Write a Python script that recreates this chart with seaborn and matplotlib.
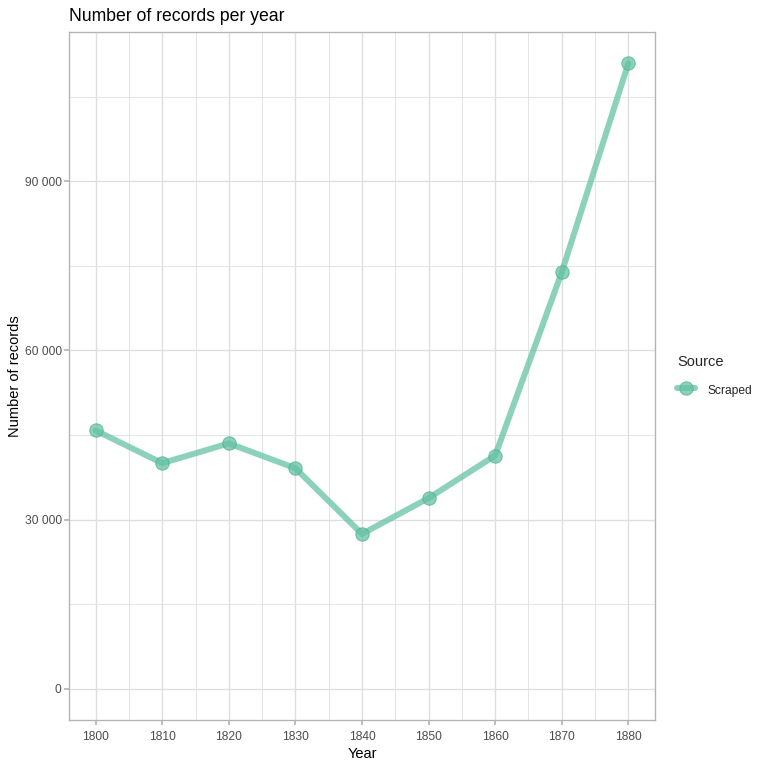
import pandas as pd
import numpy as np
import seaborn as sns
import matplotlib.pyplot as plt
from matplotlib.ticker import FuncFormatter, MultipleLocator

# values
years = [1800, 1810, 1820, 1830, 1840, 1850, 1860, 1870, 1880]
records = [45800, 40000, 43500, 39100, 27450, 33800, 41350, 73850, 110900]
source = ["Scraped"] * len(years)

df = pd.DataFrame({"Year": years, "Records": records, "Source": source})

sns.set_theme(style="white")
plt.rcParams['font.family'] = ['Liberation Sans', 'DejaVu Sans']

fig = plt.figure(figsize=(8, 8), dpi=96)
ax = fig.add_axes([69/768, 1 - 720/768, (655 - 69)/768, (720 - 32)/768])

sns.lineplot(data=df, x="Year", y="Records", hue="Source", palette=["#66c2a5"],
             marker="o", markersize=10, linewidth=4.5, alpha=0.75,
             markeredgecolor="#4fb28f", markeredgewidth=0.8, ax=ax)

ax.set_xlim(1796, 1884)
ax.set_ylim(-5545, 116450)
ax.set_xticks(years)
ax.xaxis.set_minor_locator(MultipleLocator(5))
ax.yaxis.set_major_locator(MultipleLocator(30000))
ax.yaxis.set_minor_locator(MultipleLocator(15000))
ax.yaxis.set_major_formatter(FuncFormatter(lambda v, p: f"{v:,.0f}".replace(",", " ")))

ax.grid(which="major", color="#dedede", linewidth=1.0)
ax.grid(which="minor", color="#e3e3e3", linewidth=0.7)
ax.set_axisbelow(True)
for s in ax.spines.values():
    s.set_color("#b3b3b3")
    s.set_linewidth(1.0)
ax.tick_params(axis="both", which="major", length=3.5, color="#b3b3b3", labelcolor="#4d4d4d",
               labelsize=9, pad=2, bottom=True, left=True)
ax.tick_params(axis="x", which="major", pad=5)
ax.tick_params(which="minor", length=0)

ax.set_xlabel("Year", fontsize=11, color="black", labelpad=3)
ax.set_ylabel("Number of records", fontsize=11, color="black", labelpad=2)
ax.set_title("Number of records per year", loc="left", fontsize=13.2, color="black", pad=8)

leg = ax.legend(title="Source", frameon=False, loc="center left", bbox_to_anchor=(1.03, 0.5),
                fontsize=9, title_fontsize=11, handlelength=1.5, handleheight=1.6,
                handletextpad=1.0, borderaxespad=0)
leg._legend_box.align = "left"
leg._legend_box.sep = 10

fig.savefig("out.png", dpi=96)
